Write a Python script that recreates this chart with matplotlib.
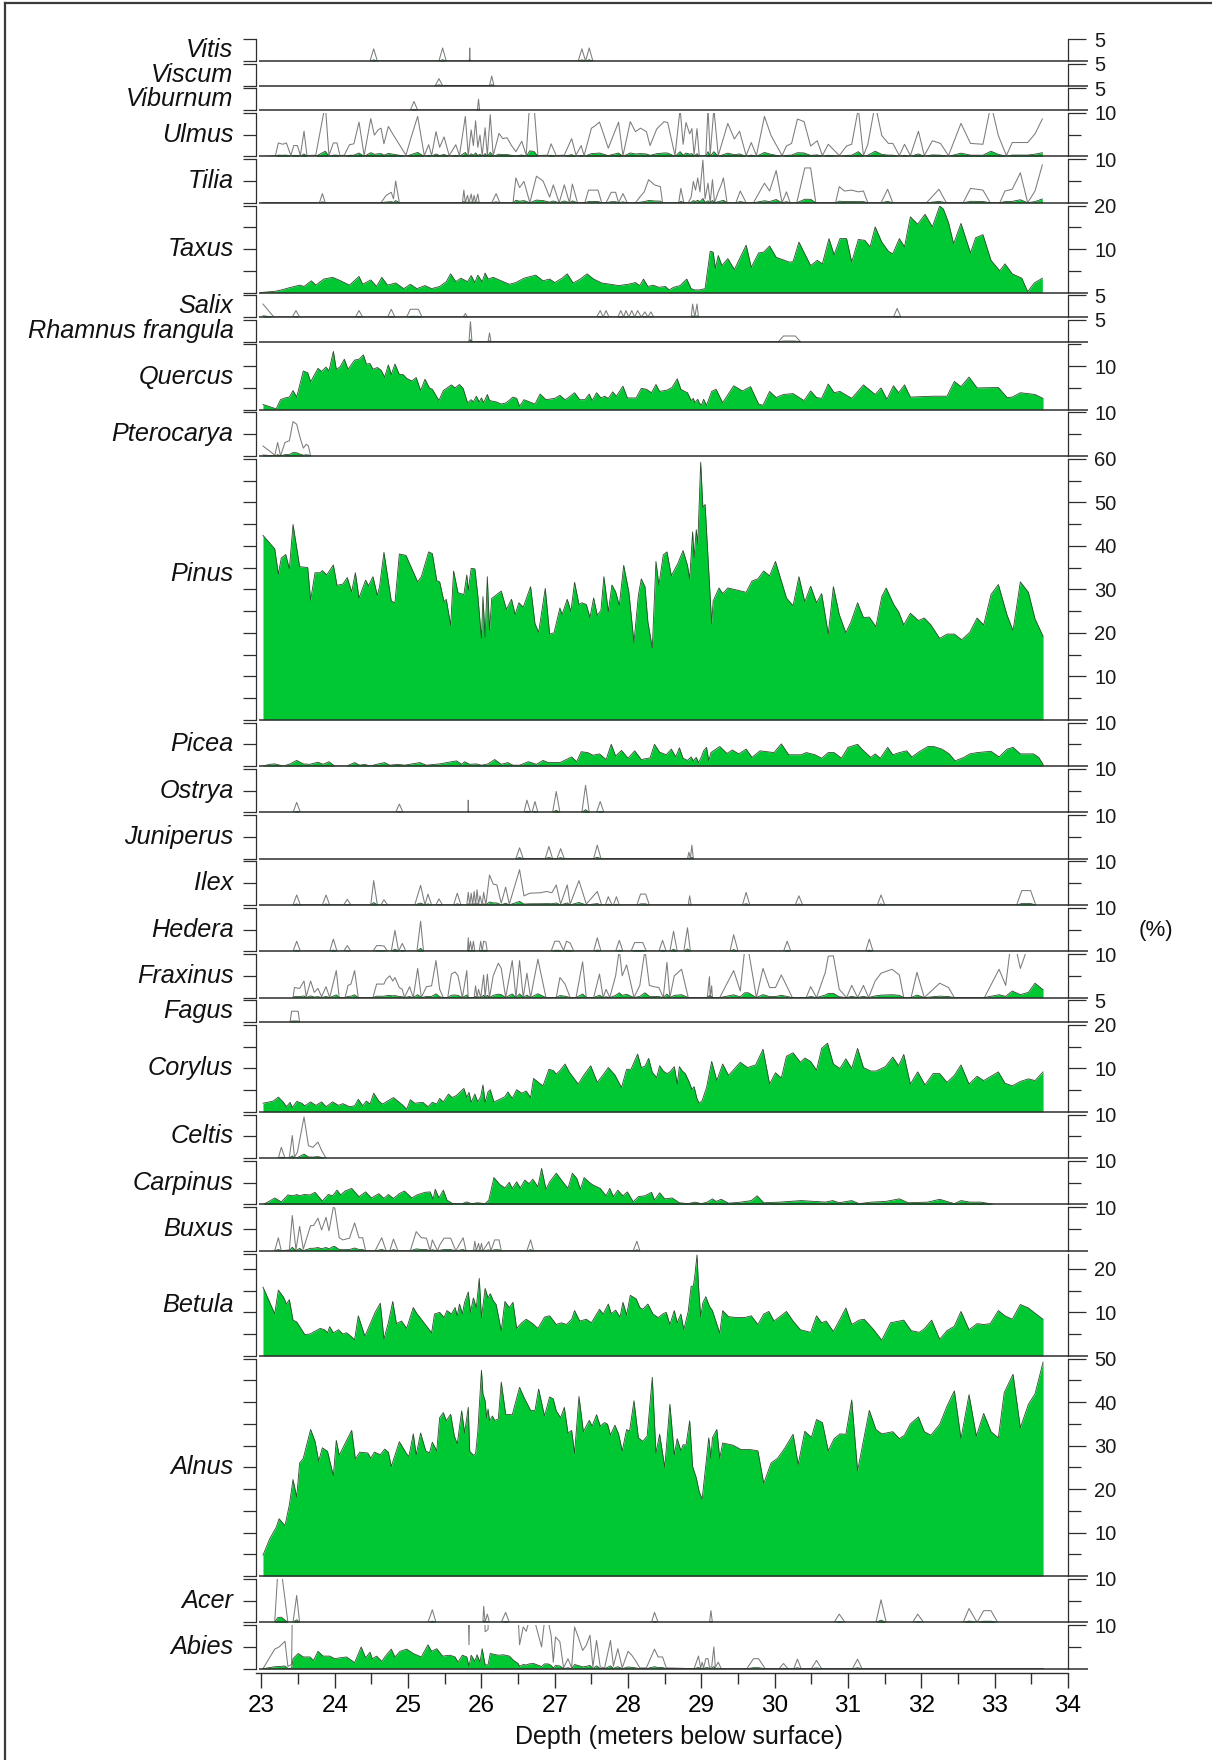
import numpy as np
import matplotlib
matplotlib.use("Agg")
import matplotlib.pyplot as plt
from matplotlib.lines import Line2D

plt.rcParams['font.family'] = ['Liberation Sans', 'DejaVu Sans']

# ---------------------------------------------------------------------------
# Pollen percentages, (depth in m, percent) per taxon
# ---------------------------------------------------------------------------
VITIS = [(24.48, 0), (24.53, 0.28), (24.58, 0), (25.42, 0), (25.47, 0.30), (25.52, 0),
         (25.835, 0), (25.84, 0.30), (25.845, 0), (27.32, 0), (27.37, 0.28), (27.42, 0),
         (27.47, 0.30), (27.52, 0)]

VISCUM = [(25.37, 0), (25.42, 0.16), (25.47, 0), (26.11, 0), (26.14, 0.22), (26.17, 0)]

VIBURNUM = [(25.03, 0), (25.08, 0.20), (25.13, 0), (25.945, 0), (25.96, 0.25), (25.975, 0)]

ULMUS = [(23.02, 0.0), (23.19, 0.02), (23.23, 0.31), (23.29, 0.28), (23.34, 0.31), (23.40, 0.02),
         (23.44, 0.25), (23.49, 0.25), (23.53, 0.02), (23.58, 0.58), (23.62, 0.02), (23.74, 0.03),
         (23.87, 1.2), (23.92, 0.02), (23.98, 0.31), (24.03, 0.31), (24.07, 0.02), (24.13, 0.03),
         (24.20, 0.27), (24.26, 0.29), (24.33, 0.79), (24.40, 0.02), (24.49, 0.87), (24.54, 0.49),
         (24.59, 0.61), (24.63, 0.65), (24.67, 0.29), (24.73, 0.69), (24.80, 0.49), (24.97, 0.03),
         (25.05, 0.49), (25.13, 0.92), (25.22, 0.02), (25.28, 0.27), (25.32, 0.02), (25.38, 0.57),
         (25.43, 0.21), (25.49, 0.45), (25.56, 0.02), (25.65, 0.27), (25.70, 0.02), (25.78, 0.92),
         (25.82, 0.02), (25.86, 0.61), (25.89, 0.25), (25.92, 0.82), (25.95, 0.21), (25.98, 0.49),
         (26.01, 0.02), (26.05, 0.66), (26.08, 0.02), (26.12, 0.96), (26.16, 0.02), (26.24, 0.53),
         (26.29, 0.41), (26.35, 0.43), (26.41, 0.25), (26.47, 0.11), (26.55, 0.35), (26.61, 0.03),
         (26.66, 1.3), (26.72, 1.1), (26.77, 0.02), (26.90, 0.03), (26.95, 0.29), (27.02, 0.02),
         (27.13, 0.03), (27.23, 0.41), (27.29, 0.03), (27.36, 0.25), (27.40, 0.02), (27.50, 0.65),
         (27.54, 0.69), (27.61, 0.79), (27.73, 0.19), (27.87, 0.79), (27.93, 0.02), (28.03, 0.80),
         (28.10, 0.57), (28.17, 0.65), (28.25, 0.57), (28.30, 0.25), (28.39, 0.63), (28.49, 0.80),
         (28.54, 0.78), (28.64, 0.02), (28.71, 1.1), (28.75, 0.28), (28.79, 0.78), (28.84, 0.52),
         (28.87, 0.64), (28.90, 0.04), (28.94, 0.64), (28.97, 0.02), (29.06, 0.02), (29.09, 1.1),
         (29.12, 0.04), (29.17, 1.1), (29.23, 0.02), (29.36, 0.76), (29.45, 0.40), (29.52, 0.58),
         (29.61, 0.02), (29.68, 0.32), (29.75, 0.02), (29.86, 0.92), (29.95, 0.48), (30.10, 0.02),
         (30.16, 0.24), (30.23, 0.30), (30.31, 0.86), (30.40, 0.80), (30.49, 0.24), (30.58, 0.36),
         (30.65, 0.02), (30.73, 0.28), (30.88, 0.02), (30.98, 0.24), (31.05, 0.28), (31.14, 1.1),
         (31.21, 0.02), (31.27, 0.28), (31.37, 1.2), (31.46, 0.48), (31.55, 0.30), (31.61, 0.30),
         (31.70, 0.02), (31.77, 0.28), (31.85, 0.02), (31.96, 0.58), (32.04, 0.02), (32.15, 0.36),
         (32.26, 0.30), (32.37, 0.02), (32.54, 0.76), (32.67, 0.30), (32.84, 0.28), (32.95, 1.2),
         (33.05, 0.48), (33.16, 0.02), (33.24, 0.32), (33.45, 0.32), (33.55, 0.52), (33.65, 0.86)]

TILIA = [(23.02, 0.0), (23.79, 0.0), (23.83, 0.21), (23.87, 0.0), (24.63, 0.0), (24.70, 0.17),
         (24.77, 0.24), (24.80, 0.09), (24.83, 0.50), (24.88, 0.0), (25.74, 0.0), (25.76, 0.29),
         (25.78, 0.0), (25.81, 0.17), (25.83, 0.0), (25.86, 0.20), (25.88, 0.0), (25.90, 0.17),
         (25.92, 0.0), (25.95, 0.20), (25.97, 0.0), (26.14, 0.0), (26.20, 0.21), (26.25, 0.0),
         (26.43, 0.0), (26.47, 0.57), (26.52, 0.35), (26.58, 0.49), (26.66, 0.0), (26.75, 0.61),
         (26.84, 0.50), (26.93, 0.13), (26.98, 0.41), (27.06, 0.0), (27.13, 0.41), (27.20, 0.0),
         (27.24, 0.43), (27.31, 0.0), (27.41, 0.0), (27.46, 0.29), (27.59, 0.29), (27.64, 0.0),
         (27.70, 0.0), (27.77, 0.24), (27.83, 0.24), (27.87, 0.0), (27.93, 0.21), (27.99, 0.0),
         (28.10, 0.0), (28.16, 0.13), (28.22, 0.25), (28.28, 0.53), (28.36, 0.41), (28.44, 0.37),
         (28.47, 0.0), (28.69, 0.0), (28.72, 0.33), (28.76, 0.0), (28.82, 0.0), (28.86, 0.13),
         (28.89, 0.49), (28.92, 0.29), (28.95, 0.57), (28.98, 0.25), (29.02, 0.98), (29.05, 0.09),
         (29.09, 0.45), (29.12, 0.0), (29.15, 0.53), (29.18, 0.0), (29.23, 0.25), (29.27, 0.41),
         (29.30, 0.57), (29.35, 0.0), (29.47, 0.0), (29.53, 0.27), (29.61, 0.0), (29.71, 0.0),
         (29.86, 0.45), (29.93, 0.27), (30.02, 0.74), (30.10, 0.0), (30.16, 0.25), (30.21, 0.0),
         (30.30, 0.0), (30.41, 0.80), (30.49, 0.80), (30.56, 0.0), (30.83, 0.0), (30.88, 0.37),
         (30.95, 0.27), (31.05, 0.29), (31.14, 0.25), (31.21, 0.27), (31.27, 0.0), (31.45, 0.0),
         (31.54, 0.31), (31.61, 0.0), (32.07, 0.0), (32.24, 0.31), (32.34, 0.0), (32.57, 0.0),
         (32.67, 0.33), (32.84, 0.29), (32.94, 0.0), (33.07, 0.0), (33.14, 0.27), (33.24, 0.31),
         (33.35, 0.69), (33.45, 0.0), (33.55, 0.27), (33.65, 0.87)]

TAXUS = [(22.99, 0.0), (23.19, 0.3), (23.27, 0.6), (23.40, 1.2), (23.52, 1.7), (23.58, 1.4),
         (23.68, 2.7), (23.74, 1.7), (23.85, 3.1), (23.97, 3.5), (24.08, 2.7), (24.20, 1.7),
         (24.33, 3.7), (24.38, 1.9), (24.49, 2.9), (24.57, 1.4), (24.64, 3.5), (24.72, 1.7),
         (24.83, 2.2), (24.94, 0.9), (25.03, 1.9), (25.12, 0.9), (25.23, 1.6), (25.32, 0.9),
         (25.43, 1.4), (25.52, 2.5), (25.58, 4.3), (25.65, 2.5), (25.72, 3.3), (25.81, 2.5),
         (25.86, 3.9), (25.91, 2.3), (25.95, 4.0), (26.01, 2.5), (26.05, 4.5), (26.09, 3.1),
         (26.16, 3.5), (26.27, 2.7), (26.38, 1.9), (26.47, 2.3), (26.58, 3.3), (26.74, 4.0),
         (26.84, 2.7), (26.93, 3.1), (27.00, 2.3), (27.10, 3.3), (27.17, 4.3), (27.25, 2.2),
         (27.35, 3.1), (27.44, 4.3), (27.53, 3.1), (27.64, 2.2), (27.76, 1.9), (27.87, 1.6),
         (28.00, 1.9), (28.10, 2.3), (28.16, 1.6), (28.21, 3.1), (28.27, 1.4), (28.34, 1.7),
         (28.42, 1.2), (28.51, 1.4), (28.56, 0.6), (28.62, 1.2), (28.71, 1.6), (28.80, 3.1),
         (28.86, 0.9), (28.91, 0.6), (28.97, 0.6), (29.05, 0.9), (29.12, 9.5), (29.16, 9.3),
         (29.19, 5.6), (29.23, 8.5), (29.28, 6.2), (29.36, 7.8), (29.45, 5.3), (29.61, 10.9),
         (29.68, 5.8), (29.78, 9.1), (29.85, 9.3), (29.93, 10.7), (30.02, 8.1), (30.20, 7.0),
         (30.25, 7.1), (30.33, 11.6), (30.49, 6.2), (30.58, 7.4), (30.65, 6.6), (30.74, 12.4),
         (30.81, 8.7), (30.89, 12.4), (30.98, 12.4), (31.05, 7.0), (31.14, 12.2), (31.23, 12.0),
         (31.30, 10.5), (31.37, 15.1), (31.46, 11.6), (31.55, 9.5), (31.61, 8.9), (31.70, 12.4),
         (31.77, 10.5), (31.85, 17.4), (31.95, 15.7), (32.05, 18.0), (32.15, 15.1), (32.25, 19.9),
         (32.30, 19.2), (32.37, 16.1), (32.44, 11.2), (32.54, 15.9), (32.67, 9.1), (32.74, 12.6),
         (32.84, 13.3), (32.95, 7.4), (33.07, 5.0), (33.14, 6.6), (33.24, 4.3), (33.37, 3.3),
         (33.45, 0.2), (33.54, 2.2), (33.65, 3.3)]

SALIX = [(23.02, 0.30), (23.17, 0.0), (23.42, 0.0), (23.47, 0.15), (23.52, 0.0), (24.28, 0.0),
         (24.33, 0.15), (24.38, 0.0), (24.72, 0.0), (24.77, 0.18), (24.82, 0.0), (24.98, 0.0),
         (25.03, 0.18), (25.14, 0.18), (25.19, 0.0), (25.75, 0.0), (25.78, 0.08), (25.81, 0.0),
         (27.57, 0.0), (27.62, 0.15), (27.66, 0.0), (27.70, 0.15), (27.74, 0.0), (27.86, 0.0),
         (27.90, 0.15), (27.94, 0.0), (27.97, 0.15), (28.01, 0.0), (28.05, 0.15), (28.09, 0.0),
         (28.13, 0.15), (28.18, 0.0), (28.23, 0.12), (28.27, 0.0), (28.31, 0.12), (28.35, 0.0),
         (28.86, 0.0), (28.88, 0.30), (28.91, 0.0), (28.94, 0.30), (28.96, 0.0), (31.62, 0.0),
         (31.67, 0.20), (31.72, 0.0)]

RHAMNUS = [(25.83, 0), (25.85, 0.46), (25.87, 0), (26.09, 0), (26.11, 0.20), (26.13, 0),
           (30.05, 0), (30.12, 0.13), (30.28, 0.13), (30.35, 0)]

QUERCUS = [(23.02, 1.2), (23.20, 0.2), (23.26, 2.3), (23.32, 2.7), (23.38, 2.9), (23.43, 4.4),
           (23.48, 2.9), (23.57, 8.9), (23.63, 8.5), (23.67, 6.4), (23.77, 9.5), (23.82, 8.8),
           (23.88, 9.8), (23.92, 8.9), (23.98, 13.4), (24.02, 9.3), (24.07, 9.8), (24.13, 11.6),
           (24.18, 9.3), (24.27, 11.4), (24.33, 11.6), (24.39, 12.6), (24.43, 10.5), (24.48, 10.6),
           (24.52, 9.3), (24.58, 9.7), (24.63, 9.1), (24.68, 7.5), (24.73, 10.3), (24.77, 8.1),
           (24.82, 10.5), (24.88, 8.1), (24.93, 8.1), (24.98, 7.2), (25.05, 6.6), (25.11, 7.4),
           (25.17, 4.4), (25.23, 7.0), (25.29, 5.0), (25.33, 4.7), (25.42, 2.1), (25.48, 4.4),
           (25.59, 5.7), (25.64, 5.0), (25.70, 5.8), (25.75, 4.9), (25.81, 1.6), (25.86, 2.3),
           (25.89, 1.8), (25.93, 3.1), (25.97, 1.8), (26.00, 2.7), (26.03, 1.6), (26.08, 3.5),
           (26.11, 2.1), (26.20, 1.8), (26.27, 1.3), (26.34, 1.6), (26.43, 2.9), (26.48, 2.6),
           (26.52, 0.8), (26.58, 2.3), (26.73, 1.3), (26.80, 3.6), (26.88, 2.3), (27.00, 2.6),
           (27.07, 3.3), (27.14, 2.3), (27.18, 2.7), (27.27, 3.9), (27.34, 2.3), (27.41, 2.3),
           (27.47, 3.6), (27.51, 2.1), (27.57, 3.9), (27.63, 2.7), (27.68, 3.1), (27.73, 2.6),
           (27.79, 4.1), (27.84, 3.1), (27.93, 5.4), (27.99, 2.7), (28.11, 2.7), (28.18, 4.9),
           (28.25, 4.7), (28.32, 3.9), (28.38, 5.8), (28.43, 4.2), (28.53, 4.5), (28.60, 5.1),
           (28.67, 7.1), (28.72, 4.7), (28.76, 4.3), (28.81, 3.9), (28.86, 2.1), (28.89, 2.6),
           (28.91, 1.6), (28.95, 2.4), (28.97, 1.6), (29.00, 1.0), (29.03, 2.4), (29.07, 1.0),
           (29.14, 4.2), (29.20, 4.7), (29.29, 1.6), (29.44, 5.5), (29.56, 4.3), (29.67, 5.3),
           (29.78, 1.3), (29.84, 1.0), (29.93, 4.2), (30.02, 2.8), (30.12, 3.5), (30.25, 3.7),
           (30.40, 2.1), (30.49, 4.3), (30.57, 2.8), (30.64, 2.6), (30.73, 5.9), (30.81, 3.9),
           (30.89, 4.2), (31.05, 2.6), (31.21, 5.7), (31.37, 3.5), (31.45, 5.0), (31.53, 2.4),
           (31.62, 5.5), (31.69, 3.9), (31.77, 5.7), (31.85, 2.9), (32.16, 3.1), (32.35, 3.1),
           (32.45, 6.5), (32.54, 5.3), (32.65, 7.5), (32.76, 5.0), (33.05, 5.1), (33.17, 2.8),
           (33.24, 2.9), (33.35, 3.9), (33.55, 3.5), (33.66, 2.6)]

PTEROCARYA = [(23.02, 0.23), (23.16, 0.05), (23.18, 0.0), (23.22, 0.31), (23.26, 0.0),
              (23.32, 0.31), (23.38, 0.35), (23.43, 0.79), (23.48, 0.73), (23.52, 0.46),
              (23.57, 0.18), (23.61, 0.27), (23.64, 0.23), (23.67, 0.0)]

PINUS = [(23.02, 42.4), (23.18, 39.3), (23.23, 33.5), (23.27, 37.2), (23.33, 38.0), (23.38, 34.7),
         (23.43, 44.9), (23.52, 35.2), (23.63, 35.0), (23.67, 27.5), (23.73, 33.8), (23.80, 33.8),
         (23.83, 34.3), (23.89, 33.3), (23.98, 35.6), (24.03, 30.9), (24.11, 31.2), (24.17, 32.7),
         (24.23, 29.4), (24.28, 33.8), (24.33, 28.0), (24.42, 32.1), (24.46, 30.8), (24.52, 32.9),
         (24.58, 28.6), (24.61, 30.6), (24.67, 38.5), (24.77, 27.3), (24.82, 26.9), (24.88, 38.1),
         (24.97, 37.8), (25.13, 31.7), (25.18, 32.9), (25.28, 38.6), (25.33, 38.2), (25.39, 32.0),
         (25.43, 31.7), (25.49, 27.1), (25.52, 27.7), (25.58, 21.7), (25.62, 34.2), (25.68, 29.2),
         (25.76, 28.8), (25.80, 33.3), (25.82, 29.8), (25.86, 34.8), (25.91, 34.7), (25.95, 28.6),
         (26.00, 18.7), (26.02, 28.3), (26.05, 19.0), (26.08, 32.9), (26.11, 20.5), (26.14, 27.9),
         (26.27, 29.6), (26.34, 25.4), (26.41, 27.7), (26.46, 24.2), (26.51, 26.9), (26.57, 25.9),
         (26.67, 30.6), (26.73, 22.1), (26.78, 20.1), (26.87, 30.2), (26.93, 19.7), (26.99, 20.0),
         (27.07, 25.7), (27.10, 24.2), (27.17, 27.7), (27.22, 24.9), (27.27, 31.6), (27.33, 26.5),
         (27.37, 26.9), (27.43, 26.5), (27.48, 23.5), (27.53, 28.0), (27.58, 24.0), (27.63, 25.2),
         (27.67, 32.9), (27.73, 24.9), (27.78, 31.0), (27.83, 29.4), (27.88, 26.3), (27.94, 35.5),
         (28.01, 29.4), (28.08, 17.8), (28.14, 28.6), (28.18, 32.4), (28.23, 30.6), (28.27, 22.5),
         (28.33, 16.5), (28.38, 36.4), (28.42, 31.0), (28.48, 37.9), (28.53, 38.6), (28.59, 33.1),
         (28.68, 36.0), (28.75, 38.9), (28.81, 35.5), (28.84, 32.4), (28.88, 43.2), (28.90, 37.3),
         (28.93, 43.7), (28.95, 40.3), (28.99, 59.2), (29.02, 48.8), (29.05, 49.5), (29.14, 22.1),
         (29.16, 27.3), (29.24, 30.3), (29.29, 29.0), (29.36, 30.3), (29.49, 29.8), (29.61, 29.3),
         (29.69, 31.9), (29.77, 32.4), (29.85, 34.2), (29.93, 33.1), (30.01, 36.4), (30.16, 28.0),
         (30.25, 26.2), (30.33, 32.9), (30.41, 27.1), (30.49, 30.7), (30.57, 26.9), (30.64, 29.0),
         (30.73, 19.7), (30.80, 30.6), (30.88, 24.2), (30.97, 20.0), (31.04, 22.5), (31.13, 26.9),
         (31.21, 23.5), (31.29, 23.6), (31.38, 21.4), (31.46, 28.3), (31.52, 30.3), (31.62, 26.6),
         (31.69, 24.8), (31.76, 21.8), (31.85, 24.5), (31.96, 22.8), (32.04, 23.4), (32.13, 21.8),
         (32.25, 18.7), (32.35, 19.7), (32.45, 19.7), (32.55, 18.4), (32.66, 20.1), (32.76, 23.4),
         (32.85, 21.8), (32.95, 28.8), (33.05, 31.1), (33.17, 24.0), (33.25, 20.5), (33.35, 31.7),
         (33.46, 29.3), (33.55, 23.2), (33.66, 19.2)]

PICEA = [(23.02, 0.0), (23.11, 0.4), (23.18, 0.5), (23.30, 0.0), (23.39, 0.5), (23.48, 1.3),
         (23.57, 0.5), (23.66, 0.4), (23.77, 0.9), (23.84, 0.4), (23.92, 1.0), (24.00, 0.0),
         (24.16, 0.0), (24.27, 0.8), (24.34, 0.2), (24.41, 0.4), (24.48, 0.0), (24.57, 0.4),
         (24.68, 0.8), (24.75, 0.2), (24.86, 0.4), (24.95, 0.2), (25.16, 0.8), (25.25, 0.2),
         (25.43, 0.5), (25.66, 1.2), (25.73, 0.4), (25.77, 1.0), (25.84, 0.4), (25.93, 0.5),
         (26.00, 0.2), (26.09, 0.5), (26.18, 1.5), (26.27, 0.4), (26.36, 0.8), (26.43, 0.2),
         (26.52, 0.2), (26.64, 1.0), (26.75, 0.4), (26.84, 1.3), (26.91, 0.8), (27.07, 0.8),
         (27.23, 2.1), (27.30, 1.0), (27.36, 3.3), (27.45, 3.1), (27.52, 2.5), (27.61, 2.8),
         (27.70, 1.5), (27.77, 5.0), (27.83, 2.3), (27.91, 3.6), (28.00, 1.8), (28.09, 3.5),
         (28.18, 1.5), (28.30, 1.9), (28.36, 5.0), (28.43, 3.2), (28.52, 2.6), (28.59, 3.9),
         (28.65, 2.1), (28.70, 4.2), (28.75, 1.8), (28.81, 1.3), (28.86, 2.1), (28.89, 1.2),
         (28.93, 2.0), (28.96, 0.8), (29.00, 2.1), (29.03, 3.5), (29.07, 4.3), (29.10, 1.2),
         (29.13, 3.1), (29.25, 4.5), (29.35, 2.9), (29.42, 3.7), (29.51, 2.8), (29.61, 3.9),
         (29.69, 2.0), (29.80, 3.5), (29.99, 3.1), (30.09, 5.1), (30.19, 2.6), (30.36, 2.6),
         (30.43, 3.1), (30.55, 2.6), (30.64, 1.8), (30.73, 3.1), (30.81, 3.1), (30.91, 1.8),
         (31.00, 4.3), (31.13, 5.0), (31.20, 3.7), (31.31, 2.0), (31.37, 2.8), (31.44, 1.8),
         (31.54, 4.3), (31.61, 2.6), (31.70, 3.1), (31.80, 3.5), (31.87, 2.1), (31.98, 3.4),
         (32.09, 4.5), (32.17, 4.5), (32.28, 3.9), (32.38, 2.8), (32.46, 1.2), (32.58, 2.0),
         (32.66, 2.8), (32.76, 3.1), (32.95, 3.4), (33.06, 2.1), (33.17, 3.9), (33.25, 4.3),
         (33.35, 2.8), (33.53, 2.8), (33.60, 2.0), (33.66, 0.4)]

OSTRYA = [(23.43, 0), (23.48, 0.23), (23.53, 0), (24.83, 0), (24.88, 0.19), (24.93, 0),
          (25.815, 0), (25.82, 0.28), (25.825, 0), (26.58, 0), (26.62, 0.28), (26.67, 0),
          (26.69, 0), (26.73, 0.25), (26.77, 0), (26.97, 0), (27.02, 0.48), (27.07, 0),
          (27.37, 0), (27.42, 0.62), (27.47, 0), (27.57, 0), (27.62, 0.25), (27.67, 0)]

JUNIPERUS = [(26.47, 0), (26.52, 0.25), (26.57, 0), (26.87, 0), (26.92, 0.28), (26.97, 0),
             (27.03, 0), (27.08, 0.23), (27.13, 0), (27.53, 0), (27.58, 0.31), (27.63, 0),
             (28.81, 0), (28.83, 0.15), (28.85, 0), (28.87, 0.31), (28.89, 0)]

ILEX = [(23.43, 0), (23.48, 0.23), (23.53, 0), (23.83, 0), (23.88, 0.23), (23.93, 0),
        (24.12, 0), (24.17, 0.13), (24.22, 0), (24.49, 0), (24.53, 0.56), (24.58, 0),
        (24.63, 0), (24.67, 0.12), (24.72, 0), (25.09, 0), (25.17, 0.45), (25.23, 0),
        (25.27, 0.25), (25.32, 0), (25.38, 0), (25.42, 0.14), (25.47, 0), (25.62, 0),
        (25.67, 0.27), (25.72, 0), (25.80, 0), (25.82, 0.29), (25.84, 0), (25.86, 0.27),
        (25.88, 0), (25.90, 0.31), (25.92, 0), (25.94, 0.35), (25.96, 0), (25.98, 0.21),
        (26.01, 0), (26.03, 0.29), (26.06, 0), (26.11, 0.69), (26.16, 0.48), (26.21, 0.46),
        (26.27, 0.04), (26.33, 0.41), (26.38, 0.02), (26.52, 0.81), (26.58, 0.21), (26.66, 0.27),
        (26.80, 0.28), (26.89, 0.31), (26.96, 0.28), (27.02, 0.46), (27.08, 0.02), (27.17, 0.46),
        (27.21, 0.02), (27.33, 0.56), (27.43, 0.02), (27.58, 0.31), (27.64, 0), (27.69, 0),
        (27.73, 0.19), (27.78, 0), (27.80, 0), (27.84, 0.19), (27.88, 0), (28.12, 0),
        (28.17, 0.25), (28.24, 0.25), (28.29, 0), (28.82, 0), (28.84, 0.21), (28.86, 0),
        (29.56, 0), (29.61, 0.29), (29.66, 0), (30.28, 0), (30.33, 0.21), (30.38, 0),
        (31.40, 0), (31.45, 0.23), (31.50, 0), (33.30, 0), (33.37, 0.33), (33.49, 0.33),
        (33.56, 0)]

HEDERA = [(23.43, 0), (23.48, 0.23), (23.53, 0), (23.93, 0), (23.98, 0.28), (24.03, 0),
          (24.12, 0), (24.17, 0.13), (24.22, 0), (24.52, 0), (24.57, 0.13), (24.62, 0.13),
          (24.67, 0.12), (24.72, 0), (24.77, 0), (24.82, 0.48), (24.87, 0), (24.92, 0.18),
          (24.97, 0), (25.12, 0), (25.17, 0.69), (25.21, 0), (25.81, 0), (25.82, 0.31),
          (25.83, 0), (25.85, 0.23), (25.87, 0), (25.89, 0.23), (25.91, 0), (25.97, 0),
          (25.99, 0.23), (26.01, 0), (26.03, 0.23), (26.06, 0.21), (26.08, 0), (26.95, 0),
          (27.00, 0.23), (27.06, 0.23), (27.12, 0.02), (27.16, 0.23), (27.21, 0.19), (27.26, 0),
          (27.53, 0), (27.58, 0.31), (27.63, 0), (27.83, 0), (27.88, 0.25), (27.93, 0),
          (28.04, 0), (28.09, 0.20), (28.20, 0.20), (28.25, 0), (28.42, 0), (28.47, 0.25),
          (28.52, 0), (28.57, 0), (28.62, 0.46), (28.67, 0), (28.76, 0), (28.81, 0.54),
          (28.85, 0), (29.39, 0), (29.44, 0.38), (29.50, 0), (30.12, 0), (30.17, 0.23),
          (30.22, 0), (31.24, 0), (31.29, 0.28), (31.34, 0)]

FRAXINUS = [(23.43, 0), (23.45, 0.23), (23.52, 0.21), (23.58, 0.38), (23.61, 0.02), (23.67, 0.38),
            (23.72, 0.12), (23.77, 0.21), (23.82, 0.02), (23.88, 0.25), (23.93, 0), (24.02, 0.62),
            (24.06, 0), (24.14, 0), (24.18, 0.28), (24.22, 0.31), (24.27, 0.62), (24.32, 0),
            (24.52, 0), (24.57, 0.31), (24.67, 0.31), (24.70, 0.42), (24.75, 0.50), (24.79, 0.38),
            (24.82, 0.46), (24.88, 0.23), (24.92, 0.19), (24.95, 0), (25.02, 0.25), (25.07, 0),
            (25.13, 0.67), (25.18, 0), (25.25, 0.25), (25.32, 0.27), (25.38, 0.85), (25.43, 0.19),
            (25.48, 0), (25.54, 0), (25.59, 0.54), (25.64, 0.59), (25.68, 0.50), (25.74, 0),
            (25.80, 0.62), (25.82, 0), (25.90, 0), (25.92, 0.27), (25.94, 0), (25.96, 0.19),
            (25.99, 0), (26.03, 0.52), (26.05, 0), (26.08, 0.54), (26.11, 0), (26.16, 0.50),
            (26.23, 0.79), (26.27, 0.67), (26.33, 0), (26.42, 0.85), (26.47, 0), (26.52, 0.85),
            (26.57, 0), (26.62, 0.56), (26.67, 0), (26.77, 0.88), (26.88, 0), (27.02, 0),
            (27.07, 0.46), (27.14, 0.31), (27.21, 0), (27.29, 0), (27.38, 0.82), (27.43, 0),
            (27.53, 0), (27.61, 0.54), (27.66, 0), (27.70, 0.19), (27.75, 0), (27.83, 0.50),
            (27.88, 1.1), (27.92, 0.50), (27.98, 0.75), (28.08, 0), (28.16, 0.28), (28.23, 1.1),
            (28.29, 0.28), (28.35, 0.25), (28.42, 0.23), (28.48, 0), (28.53, 0.81), (28.57, 0),
            (28.63, 0.50), (28.73, 0.65), (28.82, 0), (29.08, 0), (29.11, 0.48), (29.12, 0),
            (29.14, 0.27), (29.15, 0), (29.25, 0), (29.44, 0.62), (29.53, 0.15), (29.59, 1.1),
            (29.64, 1.1), (29.75, 0), (29.84, 0.67), (29.93, 0.23), (30.01, 0.23), (30.09, 0.52),
            (30.24, 0), (30.43, 0), (30.49, 0.25), (30.57, 0), (30.69, 0.58), (30.73, 0.95),
            (30.80, 0.96), (30.88, 0.19), (30.98, 0), (31.05, 0.28), (31.13, 0), (31.21, 0.28),
            (31.28, 0), (31.37, 0.38), (31.45, 0.56), (31.60, 0.65), (31.70, 0.52), (31.76, 0),
            (31.86, 0), (31.94, 0.58), (32.04, 0), (32.25, 0.33), (32.37, 0.23), (32.45, 0),
            (32.86, 0), (33.06, 0.65), (33.15, 0.28), (33.24, 1.5), (33.35, 0.67), (33.46, 1.2),
            (33.55, 3.3), (33.66, 1.8)]

FAGUS = [(23.39, 0), (23.41, 0.25), (23.50, 0.25), (23.52, 0)]

CORYLUS = [(23.02, 2.0), (23.11, 2.3), (23.16, 2.5), (23.23, 3.4), (23.30, 2.2), (23.34, 1.2),
           (23.39, 2.2), (23.42, 1.0), (23.48, 2.4), (23.55, 2.0), (23.59, 1.4), (23.67, 2.3),
           (23.74, 1.5), (23.82, 2.3), (23.88, 1.2), (23.97, 2.3), (24.05, 1.5), (24.11, 1.9),
           (24.20, 1.2), (24.27, 1.4), (24.32, 2.9), (24.38, 1.4), (24.43, 2.5), (24.48, 1.8),
           (24.53, 4.3), (24.60, 2.5), (24.65, 1.8), (24.70, 2.3), (24.80, 3.3), (24.88, 2.2),
           (24.93, 1.5), (24.98, 0.6), (25.03, 2.8), (25.09, 2.0), (25.20, 2.2), (25.27, 1.2),
           (25.33, 2.2), (25.39, 1.8), (25.43, 3.1), (25.48, 2.3), (25.55, 4.1), (25.60, 3.3),
           (25.66, 3.8), (25.76, 5.4), (25.80, 3.3), (25.83, 4.5), (25.86, 2.2), (25.91, 4.1),
           (25.95, 2.3), (25.99, 3.5), (26.02, 6.2), (26.05, 2.2), (26.09, 4.6), (26.12, 5.1),
           (26.17, 2.3), (26.25, 2.9), (26.32, 3.5), (26.36, 4.6), (26.42, 3.1), (26.48, 5.1),
           (26.55, 4.3), (26.61, 4.8), (26.67, 3.3), (26.71, 7.7), (26.79, 6.6), (26.84, 6.0),
           (26.92, 9.8), (26.98, 9.5), (27.02, 8.7), (27.07, 9.5), (27.14, 11.0), (27.20, 9.1),
           (27.32, 6.4), (27.39, 8.3), (27.49, 10.6), (27.58, 6.8), (27.65, 8.3), (27.73, 10.2),
           (27.82, 8.5), (27.91, 5.6), (27.98, 9.8), (28.04, 9.8), (28.13, 13.3), (28.18, 10.2),
           (28.23, 10.5), (28.28, 12.3), (28.33, 9.1), (28.39, 7.9), (28.43, 10.6), (28.48, 9.4),
           (28.53, 8.8), (28.57, 9.2), (28.63, 10.4), (28.67, 6.4), (28.70, 10.4), (28.74, 9.4),
           (28.78, 8.8), (28.83, 7.0), (28.87, 5.2), (28.90, 5.8), (28.94, 3.0), (28.97, 2.0),
           (29.01, 2.6), (29.07, 5.6), (29.14, 11.6), (29.21, 7.2), (29.29, 11.0), (29.37, 8.4),
           (29.53, 11.4), (29.63, 10.2), (29.74, 10.8), (29.84, 14.4), (29.93, 6.4), (30.01, 9.0),
           (30.09, 7.8), (30.16, 12.8), (30.25, 13.6), (30.35, 11.4), (30.41, 12.4), (30.49, 11.6),
           (30.57, 9.6), (30.64, 14.6), (30.72, 15.8), (30.80, 11.0), (30.89, 10.0), (30.97, 12.2),
           (31.05, 10.0), (31.13, 14.6), (31.21, 10.2), (31.31, 9.4), (31.38, 9.4), (31.51, 10.4),
           (31.61, 12.6), (31.69, 10.6), (31.76, 13.2), (31.85, 6.4), (31.95, 9.2), (32.05, 6.2),
           (32.16, 8.8), (32.25, 8.8), (32.35, 6.8), (32.45, 8.4), (32.54, 10.8), (32.65, 6.4),
           (32.76, 8.2), (32.85, 7.2), (32.95, 8.2), (33.05, 9.2), (33.14, 6.6), (33.24, 6.0),
           (33.35, 7.0), (33.46, 7.6), (33.55, 7.2), (33.66, 9.2)]

CELTIS = [(23.23, 0), (23.27, 0.25), (23.32, 0), (23.38, 0.02), (23.42, 0.52), (23.45, 0.02),
          (23.49, 0.14), (23.58, 0.95), (23.64, 0.29), (23.70, 0.25), (23.77, 0.37), (23.82, 0.18),
          (23.88, 0)]

CARPINUS = [(23.02, 0.0), (23.09, 0.6), (23.18, 1.5), (23.27, 0.6), (23.36, 2.2), (23.43, 2.0),
            (23.48, 2.3), (23.52, 2.0), (23.58, 2.3), (23.66, 2.2), (23.73, 2.8), (23.83, 0.8),
            (23.91, 2.3), (23.97, 2.0), (24.03, 3.3), (24.08, 2.2), (24.14, 3.1), (24.23, 3.7),
            (24.33, 1.8), (24.42, 2.9), (24.50, 1.5), (24.60, 2.5), (24.67, 1.4), (24.73, 2.3),
            (24.80, 1.4), (24.88, 2.5), (24.95, 3.1), (25.05, 1.5), (25.12, 2.2), (25.23, 2.8),
            (25.30, 2.9), (25.34, 1.2), (25.37, 3.5), (25.42, 1.5), (25.48, 3.3), (25.53, 1.0),
            (25.61, 0.2), (25.73, 0.15), (25.80, 0.6), (25.86, 0.2), (25.95, 0.4), (26.05, 0.2),
            (26.10, 1.0), (26.17, 6.2), (26.25, 4.6), (26.32, 3.8), (26.38, 5.1), (26.42, 3.7),
            (26.48, 5.2), (26.53, 3.8), (26.59, 5.6), (26.65, 4.8), (26.70, 5.8), (26.77, 4.1),
            (26.82, 8.3), (26.88, 3.5), (26.93, 5.2), (27.02, 7.2), (27.11, 5.2), (27.18, 3.7),
            (27.24, 7.2), (27.30, 6.0), (27.35, 3.5), (27.40, 6.2), (27.47, 5.1), (27.52, 4.5),
            (27.62, 3.7), (27.70, 2.0), (27.75, 3.7), (27.80, 1.8), (27.86, 3.3), (27.93, 2.0),
            (27.99, 2.9), (28.07, 0.6), (28.14, 1.8), (28.23, 2.0), (28.32, 2.8), (28.36, 1.0),
            (28.43, 2.7), (28.50, 1.3), (28.60, 1.5), (28.70, 0.4), (28.82, 0.2), (28.91, 0.55),
            (29.00, 0.2), (29.08, 0.55), (29.15, 1.3), (29.20, 0.7), (29.27, 1.2), (29.37, 0.3),
            (29.54, 0.55), (29.68, 0.9), (29.76, 2.0), (29.85, 0.4), (30.07, 0.55), (30.36, 0.9),
            (30.55, 0.7), (30.69, 0.55), (30.79, 0.9), (30.88, 0.4), (31.05, 0.9), (31.15, 0.2),
            (31.32, 0.55), (31.51, 0.7), (31.70, 1.3), (31.82, 0.4), (32.09, 0.55), (32.25, 1.2),
            (32.45, 0.2), (32.54, 0.9), (32.66, 0.55), (32.81, 0.55), (33.00, 0.0)]

BUXUS = [(23.18, 0), (23.23, 0.30), (23.27, 0), (23.38, 0.02), (23.42, 0.81), (23.47, 0.02),
         (23.52, 0.56), (23.57, 0.04), (23.67, 0.58), (23.71, 0.58), (23.77, 0.75), (23.82, 0.48),
         (23.88, 0.77), (23.92, 0.46), (23.98, 1.0), (24.00, 0.98), (24.06, 0.30), (24.11, 0.25),
         (24.20, 0.29), (24.27, 0.64), (24.33, 0.30), (24.38, 0.30), (24.42, 0), (24.55, 0),
         (24.64, 0.30), (24.70, 0), (24.75, 0), (24.80, 0.27), (24.86, 0), (25.03, 0),
         (25.11, 0.44), (25.18, 0.30), (25.25, 0.29), (25.30, 0), (25.33, 0.25), (25.40, 0),
         (25.43, 0.13), (25.49, 0.29), (25.58, 0.29), (25.65, 0), (25.75, 0.30), (25.79, 0),
         (25.89, 0), (25.91, 0.22), (25.93, 0), (25.96, 0.17), (25.98, 0), (26.00, 0.17),
         (26.02, 0), (26.10, 0.21), (26.13, 0), (26.18, 0.25), (26.24, 0.25), (26.27, 0),
         (26.62, 0), (26.67, 0.25), (26.71, 0), (28.07, 0), (28.12, 0.22), (28.16, 0)]

BETULA = [(23.02, 15.8), (23.18, 9.7), (23.23, 15.1), (23.30, 13.5), (23.34, 11.9), (23.38, 12.9),
          (23.43, 8.2), (23.48, 7.8), (23.59, 4.9), (23.66, 5.0), (23.80, 6.3), (23.86, 6.0),
          (23.90, 5.3), (23.93, 6.7), (23.98, 5.3), (24.05, 6.0), (24.11, 5.0), (24.16, 5.3),
          (24.22, 4.5), (24.27, 3.7), (24.32, 9.2), (24.41, 4.5), (24.55, 10.0), (24.62, 12.1),
          (24.67, 3.9), (24.73, 7.6), (24.79, 12.5), (24.84, 7.4), (24.91, 8.0), (24.98, 6.3),
          (25.07, 11.1), (25.12, 9.7), (25.18, 8.4), (25.32, 5.3), (25.36, 9.6), (25.43, 10.0),
          (25.49, 8.8), (25.53, 10.4), (25.59, 9.6), (25.64, 11.1), (25.67, 9.2), (25.70, 11.9),
          (25.74, 9.7), (25.77, 12.3), (25.82, 14.7), (25.85, 10.0), (25.89, 13.3), (25.93, 11.1),
          (25.97, 17.8), (26.00, 8.8), (26.02, 11.5), (26.05, 15.5), (26.09, 13.3), (26.12, 14.3),
          (26.16, 12.7), (26.20, 11.8), (26.27, 5.8), (26.32, 12.5), (26.38, 11.1), (26.43, 12.3),
          (26.48, 6.3), (26.55, 7.6), (26.61, 8.4), (26.70, 7.4), (26.77, 6.3), (26.86, 8.9),
          (26.93, 9.2), (27.02, 7.2), (27.09, 7.6), (27.16, 7.2), (27.23, 8.4), (27.27, 10.4),
          (27.34, 8.0), (27.43, 8.4), (27.50, 7.6), (27.57, 9.6), (27.61, 10.7), (27.66, 9.6),
          (27.73, 11.9), (27.77, 9.7), (27.83, 10.5), (27.89, 8.9), (27.93, 12.3), (27.98, 9.4),
          (28.03, 13.9), (28.11, 13.1), (28.16, 11.1), (28.20, 10.7), (28.27, 11.9), (28.34, 9.6),
          (28.41, 8.8), (28.48, 9.7), (28.52, 10.0), (28.57, 7.2), (28.63, 10.4), (28.67, 7.6),
          (28.72, 9.6), (28.76, 6.0), (28.82, 10.2), (28.86, 16.0), (28.89, 16.0), (28.91, 18.4),
          (28.94, 23.2), (28.96, 16.0), (28.99, 9.0), (29.02, 12.2), (29.06, 13.6), (29.11, 11.4),
          (29.15, 10.4), (29.25, 5.2), (29.29, 10.4), (29.37, 9.0), (29.48, 8.8), (29.59, 8.8),
          (29.68, 9.2), (29.77, 7.2), (29.85, 9.6), (29.92, 10.2), (29.99, 8.0), (30.07, 9.0),
          (30.16, 10.2), (30.25, 8.0), (30.35, 6.0), (30.49, 5.4), (30.57, 9.2), (30.64, 7.6),
          (30.70, 8.0), (30.80, 5.6), (30.89, 8.4), (30.97, 11.0), (31.05, 7.2), (31.15, 8.2),
          (31.22, 8.4), (31.34, 6.2), (31.46, 3.6), (31.58, 7.6), (31.64, 7.8), (31.76, 8.2),
          (31.86, 5.8), (31.97, 5.4), (32.04, 6.2), (32.14, 8.2), (32.25, 3.8), (32.35, 5.8),
          (32.45, 6.8), (32.54, 10.2), (32.65, 6.0), (32.76, 7.4), (32.85, 7.2), (32.94, 7.4),
          (33.05, 10.4), (33.14, 9.2), (33.24, 8.4), (33.35, 11.8), (33.46, 11.0), (33.55, 9.8),
          (33.66, 8.4)]

ALNUS = [(23.02, 4.8), (23.11, 8.5), (23.20, 11.2), (23.24, 13.2), (23.32, 11.6), (23.38, 16.4),
         (23.43, 22.2), (23.48, 18.2), (23.52, 26.0), (23.57, 27.1), (23.67, 33.7), (23.73, 31.0),
         (23.78, 26.4), (23.83, 29.5), (23.90, 28.7), (23.98, 23.1), (24.02, 31.2), (24.06, 27.8),
         (24.23, 33.5), (24.28, 26.9), (24.34, 28.5), (24.45, 28.3), (24.49, 27.1), (24.54, 28.5),
         (24.62, 27.9), (24.68, 29.2), (24.73, 28.5), (24.77, 25.2), (24.88, 30.9), (24.98, 28.1),
         (25.01, 27.5), (25.07, 32.7), (25.11, 27.9), (25.17, 32.9), (25.24, 28.8), (25.29, 28.3),
         (25.33, 30.8), (25.39, 28.8), (25.43, 36.4), (25.48, 37.6), (25.52, 35.7), (25.58, 37.2),
         (25.63, 32.2), (25.67, 30.4), (25.73, 38.0), (25.77, 32.9), (25.82, 38.8), (25.84, 28.7),
         (25.89, 27.8), (25.92, 28.1), (25.95, 33.2), (26.00, 47.3), (26.02, 41.9), (26.05, 40.3),
         (26.07, 36.4), (26.09, 38.4), (26.11, 35.7), (26.15, 36.8), (26.18, 35.8), (26.23, 36.1),
         (26.27, 44.6), (26.33, 37.2), (26.42, 37.1), (26.52, 43.4), (26.58, 41.1), (26.67, 38.1),
         (26.73, 38.1), (26.78, 43.0), (26.86, 36.8), (26.93, 41.2), (26.98, 40.7), (27.02, 38.0),
         (27.08, 36.4), (27.13, 38.8), (27.18, 32.9), (27.23, 33.5), (27.27, 28.3), (27.33, 41.3),
         (27.39, 33.2), (27.47, 35.8), (27.51, 34.5), (27.57, 37.1), (27.62, 34.5), (27.68, 35.3),
         (27.72, 34.9), (27.76, 32.4), (27.82, 34.7), (27.87, 32.7), (27.92, 28.8), (27.98, 33.7),
         (28.02, 33.3), (28.08, 40.3), (28.14, 31.8), (28.20, 31.0), (28.26, 32.2), (28.33, 45.7),
         (28.38, 28.3), (28.43, 32.6), (28.50, 25.0), (28.57, 39.5), (28.63, 27.9), (28.67, 31.6),
         (28.72, 28.8), (28.75, 30.2), (28.79, 30.1), (28.84, 35.7), (28.88, 25.2), (28.93, 22.6),
         (28.97, 19.4), (29.01, 17.7), (29.06, 25.6), (29.10, 31.8), (29.13, 27.1), (29.15, 31.8),
         (29.21, 33.7), (29.25, 27.1), (29.29, 30.6), (29.43, 30.1), (29.54, 29.1), (29.66, 29.1),
         (29.77, 28.8), (29.85, 21.3), (29.95, 26.0), (30.04, 27.1), (30.14, 29.5), (30.25, 32.6),
         (30.32, 25.7), (30.41, 33.3), (30.50, 31.9), (30.57, 36.0), (30.65, 35.3), (30.73, 28.8),
         (30.81, 31.6), (30.89, 32.7), (30.97, 32.6), (31.05, 40.5), (31.13, 24.2), (31.29, 38.1),
         (31.38, 33.7), (31.46, 32.7), (31.61, 33.2), (31.70, 31.6), (31.77, 32.4), (31.85, 35.0),
         (31.96, 36.6), (32.04, 33.2), (32.13, 32.4), (32.25, 34.9), (32.35, 39.1), (32.45, 42.6),
         (32.54, 31.6), (32.65, 41.7), (32.75, 32.2), (32.85, 37.4), (32.95, 33.2), (33.05, 31.8),
         (33.13, 42.2), (33.25, 46.4), (33.35, 34.1), (33.46, 39.5), (33.55, 41.9), (33.66, 49.2)]

ACER = [(23.18, 0), (23.22, 1.1), (23.27, 1.2), (23.32, 0.54), (23.36, 0), (23.43, 0),
        (23.48, 0.62), (23.52, 0), (25.27, 0), (25.33, 0.29), (25.38, 0), (26.02, 0),
        (26.03, 0.37), (26.05, 0), (26.08, 0.19), (26.11, 0), (26.27, 0), (26.33, 0.23),
        (26.38, 0), (28.32, 0), (28.36, 0.23), (28.41, 0), (29.11, 0), (29.13, 0.27),
        (29.15, 0), (30.81, 0), (30.88, 0.19), (30.96, 0), (31.38, 0), (31.45, 0.52),
        (31.52, 0), (31.88, 0), (31.95, 0.19), (32.03, 0), (32.57, 0), (32.65, 0.32),
        (32.76, 0), (32.85, 0.27), (32.95, 0.27), (33.04, 0)]

ABIES = [(23.02, 0.0), (23.18, 0.45), (23.24, 0.50), (23.32, 0.63), (23.36, 0.05), (23.41, 0.10),
         (23.43, 2.3), (23.50, 3.5), (23.57, 2.7), (23.66, 2.7), (23.71, 1.9), (23.77, 4.0),
         (23.84, 2.9), (23.93, 2.9), (24.00, 2.3), (24.07, 2.5), (24.16, 2.7), (24.27, 1.4),
         (24.36, 5.0), (24.42, 2.5), (24.48, 3.8), (24.51, 2.3), (24.57, 2.9), (24.64, 1.7),
         (24.70, 3.1), (24.77, 4.5), (24.82, 2.7), (24.89, 4.0), (24.98, 4.5), (25.07, 3.5),
         (25.18, 2.7), (25.27, 5.5), (25.32, 4.0), (25.39, 4.6), (25.47, 2.9), (25.57, 3.1),
         (25.64, 2.7), (25.68, 1.5), (25.74, 3.1), (25.80, 2.7), (25.83, 0.55), (25.86, 3.1),
         (25.91, 1.7), (25.94, 3.2), (25.98, 1.5), (26.01, 4.6), (26.05, 0.85), (26.09, 0.90),
         (26.12, 3.5), (26.23, 3.1), (26.30, 3.2), (26.38, 2.9), (26.44, 1.9), (26.50, 1.2),
         (26.52, 0.55), (26.57, 0.96), (26.61, 0.86), (26.65, 1.1), (26.71, 1.2), (26.76, 0.88),
         (26.82, 0.50), (26.86, 1.1), (26.91, 1.1), (26.95, 0.77), (26.98, 0.15), (27.01, 0.73),
         (27.07, 0.62), (27.12, 0.02), (27.18, 0.23), (27.23, 0.02), (27.27, 0.96), (27.32, 0.73),
         (27.38, 0.42), (27.43, 0.54), (27.48, 0.77), (27.52, 0.04), (27.57, 0.65), (27.62, 0.04),
         (27.68, 0.02), (27.76, 0.65), (27.80, 0.06), (27.86, 0.46), (27.92, 0.02), (28.00, 0.40),
         (28.05, 0.31), (28.10, 0.19), (28.16, 0.02), (28.25, 0.02), (28.36, 0.45), (28.41, 0.27),
         (28.47, 0.27), (28.52, 0.02), (28.90, 0.0), (28.96, 0.29), (28.99, 0.02), (29.01, 0.15),
         (29.03, 0.02), (29.06, 0.23), (29.09, 0.23), (29.11, 0.03), (29.14, 0.04), (29.17, 0.50),
         (29.19, 0.03), (29.23, 0.15), (29.27, 0.0), (29.62, 0.0), (29.71, 0.23), (29.78, 0.23),
         (29.87, 0.0), (30.06, 0.0), (30.12, 0.12), (30.18, 0.0), (30.26, 0.0), (30.31, 0.22),
         (30.36, 0.0), (30.50, 0.0), (30.57, 0.19), (30.64, 0.0), (31.06, 0.0), (31.13, 0.22),
         (31.19, 0.0), (33.66, 0.0)]

# Panel order (top to bottom): label, series, axis maximum (%), exaggerated curve shown
PANELS = [
    ("Vitis", VITIS, 5, True),
    ("Viscum", VISCUM, 5, True),
    ("Viburnum", VIBURNUM, 5, True),
    ("Ulmus", ULMUS, 10, True),
    ("Tilia", TILIA, 10, True),
    ("Taxus", TAXUS, 20, False),
    ("Salix", SALIX, 5, True),
    ("Rhamnus frangula", RHAMNUS, 5, True),
    ("Quercus", QUERCUS, 15, False),
    ("Pterocarya", PTEROCARYA, 10, True),
    ("Pinus", PINUS, 60, False),
    ("Picea", PICEA, 10, False),
    ("Ostrya", OSTRYA, 10, True),
    ("Juniperus", JUNIPERUS, 10, True),
    ("Ilex", ILEX, 10, True),
    ("Hedera", HEDERA, 10, True),
    ("Fraxinus", FRAXINUS, 10, True),
    ("Fagus", FAGUS, 5, True),
    ("Corylus", CORYLUS, 20, False),
    ("Celtis", CELTIS, 10, True),
    ("Carpinus", CARPINUS, 10, False),
    ("Buxus", BUXUS, 10, True),
    ("Betula", BETULA, 23.5, False),
    ("Alnus", ALNUS, 50, False),
    ("Acer", ACER, 10, True),
    ("Abies", ABIES, 10, True),
]
LABEL_YFRAC = {"Pinus": 0.56}

EXAG = 10                       # exaggeration factor of the grey curves
DEPTH_TICKS = list(range(23, 35))

# ---------------------------------------------------------------------------
# Layout / style
# ---------------------------------------------------------------------------
W, H, DPI = 1212, 1760, 100
GREEN = "#00c832"
EDGE = "#2c4a2c"
GREY = "#7c7c7c"
INK = "#2e2e2e"

TOP_PX, BOTTOM_PX, GAP_PX = 39.3, 1668.7, 2.8
X_LEFT_PX, X_RIGHT_PX = 256.0, 1068.0
XMIN, XMAX = 22.925, 34.0
BASE_X0, BASE_X1 = 22.97, 34.27
AXIS_LINE_PX = 1673.2


def as_xy(pairs):
    a = np.asarray(pairs, dtype=float)
    return a[:, 0], a[:, 1]


fig = plt.figure(figsize=(W / DPI, H / DPI), dpi=DPI)
fig.patch.set_facecolor("white")

total_units = sum(p[2] for p in PANELS)
k = (BOTTOM_PX - TOP_PX - GAP_PX * (len(PANELS) - 1)) / total_units
ax_left = X_LEFT_PX / W
ax_width = (X_RIGHT_PX - X_LEFT_PX) / W

y_px = TOP_PX
for name, pairs, vmax, exag in PANELS:
    h_px = vmax * k
    rect = [ax_left, 1 - (y_px + h_px) / H, ax_width, h_px / H]
    ax = fig.add_axes(rect)
    ax.patch.set_alpha(0)
    d, v = as_xy(pairs)

    if exag:
        ax.plot(d, v * EXAG, color=GREY, lw=0.75, zorder=2)
    ax.fill_between(d, 0, v, color=GREEN, lw=0, zorder=3)
    ax.plot(d, v, color=EDGE, lw=0.6, zorder=4)
    ax.plot([BASE_X0, BASE_X1], [0, 0], color=INK, lw=1.1, clip_on=False,
            solid_capstyle="butt", zorder=6)

    ax.set_xlim(XMIN, XMAX)
    ax.set_ylim(0, vmax)
    for s in ("top", "bottom", "right"):
        ax.spines[s].set_visible(False)
    ax.spines["left"].set_color(INK)
    ax.spines["left"].set_linewidth(0.9)
    lt = list(np.arange(0, vmax + 1e-9, 5))
    if vmax - lt[-1] > 1e-6:
        lt.append(vmax)
    ax.set_yticks(lt)
    ax.tick_params(axis="y", which="major", left=True, right=False, labelleft=False,
                   direction="out", length=9.4, width=0.9, color=INK)
    ax.tick_params(axis="x", bottom=False, labelbottom=False)

    axr = ax.twinx()
    axr.set_ylim(0, vmax)
    axr.set_xlim(XMIN, XMAX)
    for s in ("top", "bottom", "left"):
        axr.spines[s].set_visible(False)
    axr.spines["right"].set_color(INK)
    axr.spines["right"].set_linewidth(0.9)
    if vmax <= 5:
        major = [5]
    else:
        major = list(range(10, int(vmax) + 1, 10))
    minor = [t for t in range(5, int(vmax) + 1, 5) if t not in major]
    axr.set_yticks(major)
    axr.set_yticklabels([str(t) for t in major])
    axr.set_yticks(minor, minor=True)
    axr.tick_params(axis="y", which="major", direction="out", length=13, width=0.9,
                    color=INK, labelsize=14.5, pad=6.0, labelcolor="#1a1a1a")
    axr.tick_params(axis="y", which="minor", direction="out", length=9.4, width=0.9,
                    color=INK)
    axr.tick_params(axis="x", bottom=False, labelbottom=False)

    frac = LABEL_YFRAC.get(name, 0.5)
    fig.text(233.5 / W, 1 - (y_px + h_px * (1 - frac)) / H, name, ha="right",
             va="center", fontsize=18.2, fontstyle="italic", color="#111111")

    y_px += h_px + GAP_PX

# Depth axis
axx = fig.add_axes([ax_left, 1 - AXIS_LINE_PX / H, ax_width, 1e-5])
axx.patch.set_alpha(0)
for s in ("top", "left", "right"):
    axx.spines[s].set_visible(False)
axx.spines["bottom"].set_color(INK)
axx.spines["bottom"].set_linewidth(1.0)
axx.set_xlim(XMIN, XMAX)
axx.set_yticks([])
axx.set_xticks(DEPTH_TICKS)
axx.set_xticklabels([str(t) for t in DEPTH_TICKS])
axx.set_xticks([t + 0.5 for t in DEPTH_TICKS[:-1]], minor=True)
axx.tick_params(axis="x", which="major", direction="out", length=10.8, width=1.0,
                color=INK, labelsize=17.5, pad=5)
axx.tick_params(axis="x", which="minor", direction="out", length=7.9, width=1.0, color=INK)
axx.set_xlabel("Depth (meters below surface)", fontsize=18, color="#111111")
axx.xaxis.set_label_coords(0.521, -2200)
axx.xaxis.label.set_verticalalignment("center")

fig.text(1156 / W, 1 - 930 / H, "(%)", ha="center", va="center", fontsize=16,
         color="#111111")

# Outer frame
fig.add_artist(Line2D([5 / W, 5 / W], [0, 1 - 3.5 / H], transform=fig.transFigure,
                      color="#3a3a3a", lw=1.6))
fig.add_artist(Line2D([5 / W, 1], [1 - 3.5 / H, 1 - 3.5 / H], transform=fig.transFigure,
                      color="#3a3a3a", lw=1.6))

# Depth-axis title placed in figure coordinates below the tick labels
axx.xaxis.label.set_visible(False)
fig.text(X_LEFT_PX / W + 0.521 * ax_width, 1 - 1737 / H, "Depth (meters below surface)",
         ha="center", va="center", fontsize=18, color="#111111")

fig.savefig("out.png", dpi=DPI, facecolor="white")
